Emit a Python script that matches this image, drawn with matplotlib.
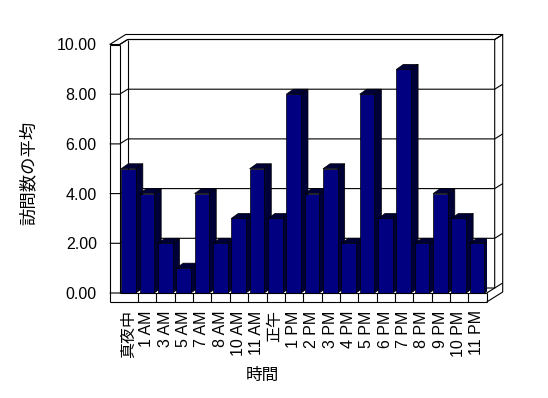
import matplotlib
matplotlib.use("Agg")
import matplotlib.pyplot as plt
import numpy as np
from matplotlib.patches import Polygon

plt.rcParams['font.family'] = ['Liberation Sans', 'Noto Sans CJK JP']

categories = ["真夜中", "1 AM", "3 AM", "5 AM", "7 AM", "8 AM", "10 AM", "11 AM",
              "正午", "1 PM", "2 PM", "3 PM", "4 PM", "5 PM", "6 PM", "7 PM",
              "8 PM", "9 PM", "10 PM", "11 PM"]
visits = [5, 4, 2, 1, 4, 2, 3, 5, 3, 8, 4, 5, 2, 8, 3, 9, 2, 4, 3, 2]
y_ticks = [0, 2, 4, 6, 8, 10]
x_title = "時間"
y_title = "訪問数の平均"

FRONT = "#000080"
SIDE = "#000038"
LW = 0.8

W, H = 548, 398
fig = plt.figure(figsize=(W / 100, H / 100), dpi=100)
# front plane of the 3D box, in pixels: x 119.7..486.7, y 293 (0) .. 44.5 (10)
ax = fig.add_axes([119.7 / W, 1 - 293 / H, 367 / W, 248.5 / H])
n = len(categories)
ymax = y_ticks[-1]
ax.set_xlim(0, n)
ax.set_ylim(0, ymax)
for s in ax.spines.values():
    s.set_visible(False)

# depth offsets in data units
px_x = n / 367.0
px_y = ymax / 248.5
ddx, ddy = 8 * px_x, 5 * px_y        # box depth
wt, ft = 10 * px_x, 9 * px_y         # wall / floor thickness
bdx, bdy = 7 * px_x, 5 * px_y        # bar depth


def seg(xs, ys, z=1):
    ax.plot(xs, ys, color="black", lw=LW, clip_on=False, zorder=z,
            solid_capstyle="butt")


# gridlines on back wall + left wall faces
for v in y_ticks:
    seg([-wt, 0, ddx, n + ddx, n + 2 * ddx], [v, v, v + ddy, v + ddy, v + 2 * ddy], z=1)

# box outline
seg([-wt, -wt], [-ft, ymax])
seg([0, 0], [0, ymax])
seg([-wt, 0], [ymax, ymax])
seg([-wt, -wt + 2 * ddx, n + 2 * ddx, n + 2 * ddx, n],
    [ymax, ymax + 2 * ddy, ymax + 2 * ddy, -ft + 2 * ddy, -ft])
seg([0, ddx, n + ddx, n + ddx, n], [ymax, ymax + ddy, ymax + ddy, ddy, 0])
seg([ddx, ddx], [ddy, ymax + ddy])
seg([n + ddx, n + 2 * ddx], [ymax + ddy, ymax + 2 * ddy])
seg([-wt, n], [-ft, -ft], z=5)
seg([0, n], [0, 0], z=5)
for i in range(1, n + 1):
    seg([i, i], [-ft, 0], z=5)

# bars with depth
bw = 0.8
x0 = np.arange(n) + 0.08
for i, (x, v) in enumerate(zip(x0, visits)):
    z = 2 + i * 0.01
    side = Polygon([(x + bw, 0), (x + bw + bdx, bdy), (x + bw + bdx, v + bdy), (x + bw, v)],
                   closed=True, facecolor=SIDE, edgecolor="black", lw=0.5, zorder=z)
    top = Polygon([(x, v), (x + bw, v), (x + bw + bdx, v + bdy), (x + bdx, v + bdy)],
                  closed=True, facecolor=SIDE, edgecolor="black", lw=0.5, zorder=z)
    ax.add_patch(side)
    ax.add_patch(top)
ax.bar(x0, visits, width=bw, align="edge", color=FRONT, edgecolor="black",
       linewidth=0.5, zorder=3)
# each bar front covers the previous bar's side
for i, p in enumerate(ax.patches[-n:]):
    p.set_zorder(2 + i * 0.01 + 0.005)

ax.set_yticks(y_ticks, [f"{v:.2f}" for v in y_ticks], fontsize=11.5)
ax.tick_params(axis="y", length=0, pad=16.5)
ax.set_xticks(np.arange(n) + 0.47, categories, rotation=90, fontsize=11.5)
ax.tick_params(axis="x", length=0, pad=12.5)

fig.text(262 / W, 1 - 375 / H, x_title, ha="center", va="center", fontsize=12)
fig.text(28 / W, 1 - 173 / H, y_title, ha="center", va="center", rotation=90, fontsize=12.5)

fig.savefig("out.png", dpi=100)
